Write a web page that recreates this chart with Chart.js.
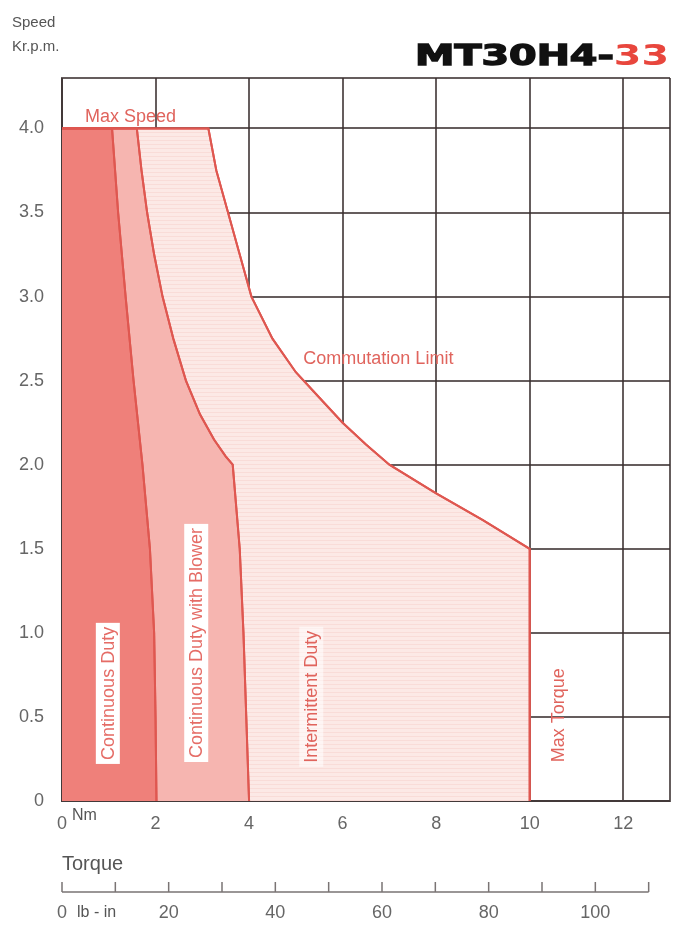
<!DOCTYPE html>
<html lang="en">
<head>
<meta charset="UTF-8">
<title>MT30H4-33</title>
<script src="https://cdn.jsdelivr.net/npm/chart.js@4.4.0/dist/chart.umd.min.js"></script>
<style>
  html, body { margin: 0; padding: 0; background: #fff; }
  canvas { display: block; }
</style>
</head>
<body>
<canvas id="myChart" width="690" height="927"></canvas>
<script>
// torque in Nm, speed in Kr.p.m.
const continuousTorque = [0, 1.07, 1.2, 1.36, 1.53, 1.72, 1.88, 1.97, 2.0, 2.02];
const continuousSpeed  = [4.0, 4.0, 3.5, 3.0, 2.5, 2.0, 1.5, 1.0, 0.5, 0];
const blowerTorque = [0, 1.6, 1.7, 1.82, 1.97, 2.15, 2.38, 2.65, 2.95, 3.25, 3.5, 3.65, 3.8, 3.88, 3.94, 4.0];
const blowerSpeed  = [4.0, 4.0, 3.75, 3.5, 3.25, 3.0, 2.75, 2.5, 2.3, 2.15, 2.05, 2.0, 1.5, 1.0, 0.5, 0];
const limitTorque = [0, 3.13, 3.3, 3.55, 3.8, 4.05, 4.5, 5.0, 5.5, 6.0, 6.5, 7.0, 8.0, 9.0, 10.0, 10.0];
const limitSpeed  = [4.0, 4.0, 3.75, 3.5, 3.25, 3.0, 2.75, 2.55, 2.4, 2.25, 2.12, 2.0, 1.83, 1.67, 1.5, 0];

const nmTicks = [0, 2, 4, 6, 8, 10, 12];
const speedTicks = [0, 0.5, 1.0, 1.5, 2.0, 2.5, 3.0, 3.5, 4.0];
const lbInTicks = [0, 10, 20, 30, 40, 50, 60, 70, 80, 90, 100, 110];
const lbInLabels = [0, 20, 40, 60, 80, 100];

const toPoints = (xs, ys) => xs.map((x, i) => ({ x: x, y: ys[i] }));

// light stripes like the printed intermittent area
function stripes(base, line, gap) {
    const c = document.createElement('canvas');
    c.width = 8; c.height = gap;
    const g = c.getContext('2d');
    g.fillStyle = base; g.fillRect(0, 0, 8, gap);
    g.fillStyle = line; g.fillRect(0, 0, 8, 1);
    return g.createPattern(c, 'repeat');
}

const red = '#df5750';
const gridColor = 'rgba(58, 48, 48, 0.78)';
const labelFont = '"Liberation Sans", Arial, sans-serif';

function vText(ctx, text, cx, cy, color, box) {
    ctx.save();
    ctx.translate(cx, cy);
    ctx.rotate(-Math.PI / 2);
    ctx.font = '18px ' + labelFont;
    const w = ctx.measureText(text).width;
    if (box) {
        ctx.fillStyle = box;
        ctx.fillRect(-w / 2 - 4, -12, w + 8, 24);
    }
    ctx.fillStyle = color;
    ctx.textAlign = 'center';
    ctx.textBaseline = 'middle';
    ctx.fillText(text, 0, 1);
    ctx.restore();
}

const decor = {
    id: 'decor',
    afterDraw(chart) {
        const ctx = chart.ctx;
        const x = chart.scales.x, y = chart.scales.y, x2 = chart.scales.x2;
        const area = chart.chartArea;

        // curve outlines back on top of the grid
        chart.data.datasets.forEach((d, i) => chart.getDatasetMeta(i).dataset.draw(ctx, area));

        ctx.save();
        // axis name top left
        ctx.fillStyle = '#555';
        ctx.font = '15px ' + labelFont;
        ctx.textAlign = 'left';
        ctx.textBaseline = 'alphabetic';
        ctx.fillText('Speed', 12, 27);
        ctx.fillText('Kr.p.m.', 12, 51);

        // title
        ctx.font = 'bold 29px "DejaVu Sans", sans-serif';
        const a = 'MT30H4-', b = '33';
        const wa = ctx.measureText(a).width, wb = ctx.measureText(b).width;
        ctx.save();
        ctx.translate(area.right - 1, 65);
        ctx.scale(254 / (wa + wb), 1);
        ctx.textAlign = 'right';
        ctx.fillStyle = '#e8463d';
        ctx.fillText(b, 0, 0);
        ctx.fillStyle = '#111';
        ctx.strokeStyle = '#111';
        ctx.lineWidth = 1.4;
        ctx.fillText(a, -wb, 0);
        ctx.strokeText(a, -wb, 0);
        ctx.restore();

        // curve names
        ctx.font = '18px ' + labelFont;
        ctx.fillStyle = '#e0645d';
        ctx.fillText('Max Speed', x.getPixelForValue(0.49), y.getPixelForValue(4.0) - 6);
        ctx.fillText('Commutation Limit', x.getPixelForValue(5.16), y.getPixelForValue(2.6));

        vText(ctx, 'Continuous Duty', x.getPixelForValue(0.98), y.getPixelForValue(0.64), '#e56c66', '#fff');
        vText(ctx, 'Continuous Duty with Blower', x.getPixelForValue(2.87), y.getPixelForValue(0.94), '#e56c66', '#fff');
        vText(ctx, 'Intermittent Duty', x.getPixelForValue(5.33), y.getPixelForValue(0.62), '#e0645d', 'rgba(255,255,255,0.55)');
        vText(ctx, 'Max Torque', x.getPixelForValue(10.6), y.getPixelForValue(0.51), '#e0645d', null);

        // unit names next to the zero ticks
        ctx.fillStyle = '#555';
        ctx.font = '16px ' + labelFont;
        ctx.fillText('Nm', x.getPixelForValue(0) + 10, 820);
        ctx.fillText('lb - in', x2.getPixelForValue(0) + 15, 917);
        ctx.font = '20px ' + labelFont;
        ctx.fillText('Torque', x2.getPixelForValue(0), 870);

        // lb-in ruler
        const ly = 892;
        ctx.strokeStyle = '#7a7474';
        ctx.lineWidth = 1.5;
        ctx.beginPath();
        ctx.moveTo(x2.getPixelForValue(lbInTicks[0]), ly);
        ctx.lineTo(x2.getPixelForValue(lbInTicks[lbInTicks.length - 1]), ly);
        lbInTicks.forEach(v => {
            const px = x2.getPixelForValue(v);
            ctx.moveTo(px, ly);
            ctx.lineTo(px, ly - 10);
        });
        ctx.stroke();
        ctx.restore();
    }
};

const ctx = document.getElementById('myChart').getContext('2d');
const myChart = new Chart(ctx, {
    type: 'line',
    data: {
        datasets: [{
            label: 'Continuous Duty',
            data: toPoints(continuousTorque, continuousSpeed),
            borderColor: red,
            borderWidth: 2,
            backgroundColor: '#ef807a',
            fill: 'origin'
        }, {
            label: 'Continuous Duty with Blower',
            data: toPoints(blowerTorque, blowerSpeed),
            borderColor: red,
            borderWidth: 2,
            backgroundColor: '#f6b5b0',
            fill: 'origin'
        }, {
            label: 'Intermittent Duty',
            data: toPoints(limitTorque, limitSpeed),
            borderColor: red,
            borderWidth: 2,
            backgroundColor: stripes('#fce9e6', '#f9dcd8', 4),
            fill: 'origin'
        }]
    },
    options: {
        responsive: false,
        animation: false,
        devicePixelRatio: 1,
        layout: { padding: { top: 78, right: 20, left: 0, bottom: 0 } },
        elements: { point: { radius: 0 }, line: { tension: 0 } },
        plugins: { legend: { display: false }, tooltip: { enabled: false } },
        scales: {
            x: {
                type: 'linear',
                min: 0,
                max: 13,
                z: 1,
                afterBuildTicks: s => { s.ticks = nmTicks.concat([13]).map(v => ({ value: v })); },
                afterFit: s => { s.height = 91; },
                grid: { color: gridColor, lineWidth: 2, drawTicks: false },
                border: { color: gridColor, width: 2 },
                ticks: {
                    autoSkip: false,
                    maxRotation: 0,
                    padding: 12,
                    color: '#666',
                    font: { family: labelFont, size: 18 },
                    callback: v => nmTicks.includes(v) ? String(v) : ''
                }
            },
            x2: {
                type: 'linear',
                position: 'bottom',
                weight: 1,
                min: 0,
                max: 114,
                afterBuildTicks: s => { s.ticks = lbInTicks.map(v => ({ value: v })); },
                afterFit: s => { s.height = 35; },
                grid: { display: false },
                border: { display: false },
                ticks: {
                    autoSkip: false,
                    maxRotation: 0,
                    padding: 2,
                    color: '#666',
                    font: { family: labelFont, size: 18 },
                    callback: v => lbInLabels.includes(v) ? String(v) : ''
                }
            },
            y: {
                type: 'linear',
                min: 0,
                max: 4.3,
                z: 1,
                afterBuildTicks: s => { s.ticks = speedTicks.concat([4.3]).map(v => ({ value: v })); },
                afterFit: s => { s.width = 62; },
                grid: { color: gridColor, lineWidth: 2, drawTicks: false },
                border: { color: gridColor, width: 2 },
                ticks: {
                    padding: 18,
                    color: '#666',
                    font: { family: labelFont, size: 18 },
                    callback: v => speedTicks.includes(v) ? (v === 0 ? '0' : v.toFixed(1)) : ''
                }
            }
        }
    },
    plugins: [decor]
});
</script>
</body>
</html>
